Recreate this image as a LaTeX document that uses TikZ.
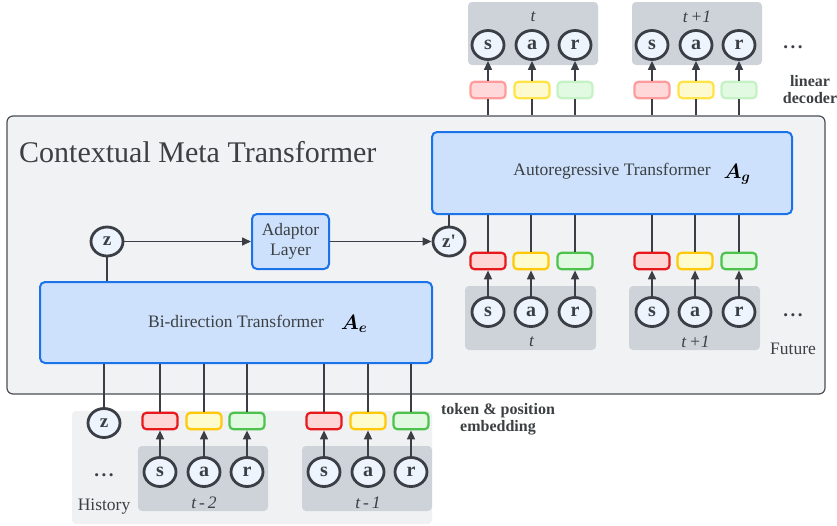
\documentclass[tikz,border=0pt]{standalone}
\usepackage{fontspec}
\setmainfont{Liberation Serif}
\usepackage{bm}
\usetikzlibrary{shapes.geometric,arrows.meta}
\definecolor{dk}{HTML}{3B3F45}
\definecolor{txt}{HTML}{3C4043}
\definecolor{contfill}{HTML}{F1F2F4}
\definecolor{contdraw}{HTML}{4A4F55}
\definecolor{bfill}{HTML}{CDE1FC}
\definecolor{bdraw}{HTML}{1A73E8}
\definecolor{cfill}{HTML}{EEF4FD}
\definecolor{pgray}{HTML}{CED3DA}
\definecolor{hist}{HTML}{F0F1F3}
\definecolor{rD}{HTML}{E8191C}\definecolor{rF}{HTML}{FFD6D6}
\definecolor{yD}{HTML}{FFC90A}\definecolor{yF}{HTML}{FEFBCC}
\definecolor{gD}{HTML}{4DC34D}\definecolor{gF}{HTML}{E0F9E0}
\definecolor{rpD}{HTML}{FF9B9B}\definecolor{rpF}{HTML}{FFD9D9}
\definecolor{ypD}{HTML}{FFE347}\definecolor{ypF}{HTML}{FDFAD0}
\definecolor{gpD}{HTML}{C5F2C5}\definecolor{gpF}{HTML}{E2FAE2}
\newcommand\myfs[1]{\fontsize{#1}{#1}\selectfont}
\begin{document}
\begin{tikzpicture}[x=1pt,y=-1pt,
  tok/.style={ellipse, draw=dk, line width=2.8pt, fill=cfill, minimum width=32pt, minimum height=29pt, inner sep=0pt, text=dk, font=\bfseries\myfs{20}},
  emb/.style={rectangle, rounded corners=4pt, line width=2.2pt, minimum width=35pt, minimum height=16.5pt, inner sep=0pt},
  er/.style={emb, draw=rD, fill=rF}, ey/.style={emb, draw=yD, fill=yF}, eg/.style={emb, draw=gD, fill=gF},
  dr/.style={emb, draw=rpD, fill=rpF}, dy/.style={emb, draw=ypD, fill=ypF}, dg/.style={emb, draw=gpD, fill=gpF},
  panel/.style={rectangle, rounded corners=4pt, fill=pgray, inner sep=0pt},
  tbox/.style={rectangle, rounded corners=5pt, draw=bdraw, fill=bfill, line width=2pt, inner sep=0pt},
  lbl/.style={text=txt, font=\myfs{17.5}, inner sep=0pt},
  tl/.style={text=txt, font=\itshape\myfs{17.5}, inner sep=0pt},
  bl/.style={text=txt, font=\bfseries\myfs{16}, inner sep=0pt, align=center},
  dots/.style={text=dk, font=\bfseries\myfs{19}, inner sep=0pt},
  arr/.style={draw=dk, line width=1.6pt, -{Triangle[length=9pt,width=8pt]}},
  ln/.style={draw=dk, line width=1.6pt}]
\useasboundingbox (0,0) rectangle (837,525);
% container and history panel
\node[rectangle, rounded corners=6pt, draw=contdraw, fill=contfill, line width=1.2pt, minimum width=818pt, minimum height=278pt, inner sep=0pt] (cont) at (416,255) {};
\node[rectangle, rounded corners=4pt, fill=hist, minimum width=360pt, minimum height=113pt, inner sep=0pt] (hist) at (252,467.5) {};
\node[text=txt, font=\myfs{30}, anchor=base west, inner sep=0pt] (title) at (19,162) {Contextual Meta Transformer};
% transformer boxes
\node[tbox, minimum width=392pt, minimum height=81pt] (bi) at (236,322.5) {};
\node[lbl] (bitext) at (236,321) {Bi-direction Transformer};
\node[text=black, font=\myfs{22}, inner sep=0pt] (Ae) at (354,324) {$\bm{A}_{\bm{e}}$};
\node[tbox, minimum width=360pt, minimum height=82pt] (ar) at (612,173) {};
\node[lbl] (artext) at (612,171) {Autoregressive Transformer};
\node[text=black, font=\myfs{22}, inner sep=0pt] (Ag) at (737,174) {$\bm{A}_{\bm{g}}$};
\node[tbox, minimum width=77pt, minimum height=55pt, align=center, text=txt, font=\myfs{17.5}] (adapt) at (290.5,241.5) {Adaptor\\[3pt]Layer};
\node[tok, font=\bfseries\myfs{19}] (z) at (107,241.5) {z};
\node[tok, font=\bfseries\myfs{19}] (zp) at (449,241.5) {z\textquotesingle};
\node[tok, font=\bfseries\myfs{19}] (zb) at (104,423) {z};
\draw[arr] (z) -- (adapt);
\draw[arr] (adapt) -- (zp);
\draw[ln] (z.south) -- (z.south |- bi.north);
\draw[ln] (zp.north) -- (zp.north |- ar.south);
\draw[ln] (zb.north) -- (zb.north |- bi.south);
% top outputs
\foreach \n/\bx/\lab in {T1/488/t, T2/652/t\,+1} {
  \node[panel, minimum width=130pt, minimum height=63pt] (\n p) at (\bx+45,33.5) {};
  \node[tl] (\n l) at (\bx+45,17) {\lab};
  \node[tok] (\n s) at (\bx,45) {s};
  \node[tok] (\n a) at (\bx+44,45) {a};
  \node[tok] (\n r) at (\bx+87,45) {r};
  \node[dr] (\n ds) at (\bx,90) {};
  \node[dy] (\n da) at (\bx+44,90) {};
  \node[dg] (\n dr) at (\bx+87,90) {};
  \foreach \k in {s,a,r} {
    \draw[arr] (\n d\k.north) -- (\n \k.south);
    \draw[ln] (\n d\k.south) -- (\n d\k.south |- cont.north);
  }
}
% future inputs
\foreach \n/\bx/\lab in {F1/488/t, F2/652/t\,+1} {
  \node[panel, minimum width=131pt, minimum height=64pt] (\n p) at (\bx+42.5,318) {};
  \node[tl] (\n l) at (\bx+43.5,342) {\lab};
  \node[tok] (\n s) at (\bx,312) {s};
  \node[tok] (\n a) at (\bx+43,312) {a};
  \node[tok] (\n r) at (\bx+87,312) {r};
  \node[er] (\n es) at (\bx,261) {};
  \node[ey] (\n ea) at (\bx+43,261) {};
  \node[eg] (\n er) at (\bx+87,261) {};
  \foreach \k in {s,a,r} {
    \draw[arr] (\n \k.north) -- (\n e\k.south);
    \draw[ln] (\n e\k.north) -- (\n e\k.north |- ar.south);
  }
}
% history inputs
\foreach \n/\bx/\lab in {H1/160/t\,-\,2, H2/324/t\,-\,1} {
  \node[panel, minimum width=130pt, minimum height=65pt] (\n p) at (\bx+43,478.5) {};
  \node[tl] (\n l) at (\bx+44,503) {\lab};
  \node[tok] (\n s) at (\bx,472) {s};
  \node[tok] (\n a) at (\bx+44,472) {a};
  \node[tok] (\n r) at (\bx+87,472) {r};
  \node[er] (\n es) at (\bx,421) {};
  \node[ey] (\n ea) at (\bx+44,421) {};
  \node[eg] (\n er) at (\bx+87,421) {};
  \foreach \k in {s,a,r} {
    \draw[arr] (\n \k.north) -- (\n e\k.south);
    \draw[ln] (\n e\k.north) -- (\n e\k.north |- bi.south);
  }
}
% labels
\node[dots] (dtop) at (793,47) {.\kern2.5pt.\kern2.5pt.};
\node[dots] (dfut) at (793,315) {.\kern2.5pt.\kern2.5pt.};
\node[dots] (dhist) at (104,475) {.\kern2.5pt.\kern2.5pt.};
\node[lbl] (future) at (793,349) {Future};
\node[lbl] (history) at (104,507) {History};
\node[bl] (lindec) at (810,90) {linear\\[1pt]decoder};
\node[bl] (tokemb) at (498,419) {token \& position\\[1pt]embedding};
\end{tikzpicture}
\end{document}
